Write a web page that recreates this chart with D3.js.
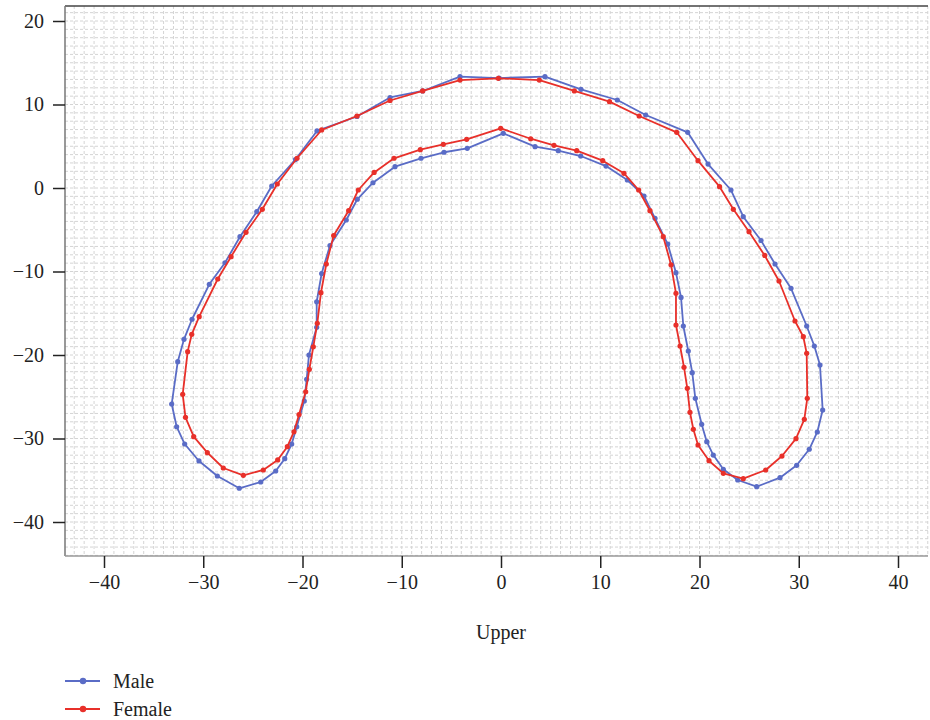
<!DOCTYPE html>
<html>
<head>
<meta charset="utf-8">
<script src="https://cdn.jsdelivr.net/npm/d3@7"></script>
<style>
  html, body { margin: 0; padding: 0; background: #fff; }
  svg { display: block; }
  text { font-family: "Liberation Serif", "DejaVu Serif", serif; fill: #222; }
</style>
</head>
<body>
<svg id="chart" width="930" height="720"></svg>
<script>
// ---- data ----
const seriesNames = ["Male", "Female"];
const seriesColors = ["#5a6cc6", "#e8302a"];

const maleX = [-33.18,-32.57,-31.94,-31.13,-29.39,-27.81,-26.30,-24.61,-23.10,-20.71,-18.54,-14.51,-11.18,-7.89,-4.13,-0.20,4.43,8.06,11.72,14.58,18.81,20.86,23.17,24.41,26.20,27.61,29.22,30.80,31.57,32.14,32.41,31.87,31.06,29.79,28.11,25.76,23.85,22.40,21.39,20.73,20.22,19.58,19.27,18.87,18.37,18.14,17.63,16.80,15.52,14.41,12.73,10.58,8.03,5.77,3.43,0.23,-3.40,-5.74,-8.06,-10.68,-12.90,-14.48,-15.59,-17.23,-18.07,-18.57,-18.57,-19.35,-19.58,-19.82,-20.58,-21.09,-21.79,-22.70,-24.21,-26.37,-28.58,-30.43,-31.87,-32.68];
const maleY = [-25.87,-20.80,-18.12,-15.72,-11.53,-8.95,-5.83,-2.84,0.24,3.41,6.83,8.56,10.84,11.62,13.33,13.17,13.33,11.82,10.54,8.74,6.67,2.87,-0.24,-3.44,-6.29,-9.10,-12.01,-16.53,-18.92,-21.20,-26.59,-29.22,-31.29,-33.21,-34.69,-35.77,-34.97,-33.69,-31.98,-30.38,-28.30,-25.19,-22.12,-19.52,-16.53,-13.11,-10.14,-6.71,-3.63,-0.96,0.96,2.63,3.83,4.47,4.95,6.55,4.75,4.28,3.56,2.55,0.63,-1.35,-3.83,-6.89,-10.24,-13.62,-16.68,-20.00,-22.91,-25.51,-28.59,-30.66,-32.42,-33.89,-35.21,-35.96,-34.49,-32.69,-30.66,-28.59];

const femaleX = [-32.07,-31.57,-31.16,-30.41,-28.54,-27.20,-25.69,-24.05,-22.54,-20.55,-18.07,-14.51,-11.18,-7.89,-4.13,-0.27,3.86,7.39,10.93,13.92,17.70,19.85,22.02,23.41,24.99,26.57,28.01,29.62,30.46,30.80,30.86,30.56,29.72,28.31,26.67,24.41,22.40,20.96,19.85,19.38,19.04,18.77,18.44,18.04,17.63,17.63,17.13,16.35,15.01,13.87,12.39,10.25,7.63,5.34,2.99,-0.03,-3.46,-5.81,-8.13,-10.78,-12.78,-14.38,-15.35,-16.86,-17.60,-18.14,-18.51,-18.91,-19.31,-19.68,-20.35,-20.86,-21.53,-22.50,-23.95,-25.96,-27.98,-29.59,-30.96,-31.79];
const femaleY = [-24.71,-19.60,-17.52,-15.41,-10.90,-8.23,-5.31,-2.55,0.48,3.56,6.95,8.62,10.48,11.62,12.93,13.14,12.93,11.62,10.34,8.62,6.67,3.27,0.16,-2.55,-5.23,-8.08,-11.14,-15.93,-17.81,-19.80,-25.19,-27.70,-30.02,-32.10,-33.77,-34.81,-34.17,-32.66,-30.78,-28.90,-26.86,-23.99,-21.47,-18.92,-16.41,-12.61,-9.19,-5.83,-2.72,-0.24,1.76,3.27,4.47,5.11,5.90,7.15,5.83,5.23,4.59,3.56,1.86,-0.24,-2.72,-5.69,-9.10,-12.54,-16.20,-19.01,-21.71,-24.40,-27.13,-29.19,-30.98,-32.57,-33.77,-34.41,-33.53,-31.70,-29.78,-27.46];

const xTicks = [-40, -30, -20, -10, 0, 10, 20, 30, 40];
const yTicks = [20, 10, 0, -10, -20, -30, -40];
const xTitle = "Upper";

// ---- layout ----
const svg = d3.select("#chart");
const plot = { left: 65, right: 928, top: 6, bottom: 556 };
const fontSize = 20;

const x = d3.scaleLinear().domain([-40, 40]).range([104, 898]);
const y = d3.scaleLinear().domain([20, -40]).range([21, 522]);

const xMin = x.invert(plot.left), xMax = x.invert(plot.right);
const yMax = y.invert(plot.top), yMin = y.invert(plot.bottom);

// grid (every 1 unit, dashed)
const grid = svg.append("g");
d3.range(Math.ceil(xMin), Math.floor(xMax) + 1).forEach(v => {
  grid.append("line")
    .attr("x1", x(v)).attr("x2", x(v))
    .attr("y1", plot.top).attr("y2", plot.bottom)
    .attr("stroke", "#d4d4d4").attr("stroke-width", 1)
    .attr("stroke-dasharray", "3,2");
});
d3.range(Math.ceil(yMin), Math.floor(yMax) + 1).forEach(v => {
  grid.append("line")
    .attr("x1", plot.left).attr("x2", plot.right)
    .attr("y1", y(v)).attr("y2", y(v))
    .attr("stroke", "#d4d4d4").attr("stroke-width", 1)
    .attr("stroke-dasharray", "3,2");
});

// frame
svg.append("line").attr("x1", plot.left).attr("x2", plot.right)
  .attr("y1", plot.top).attr("y2", plot.top)
  .attr("stroke", "#444").attr("stroke-width", 1.5);
svg.append("line").attr("x1", plot.left).attr("x2", plot.left)
  .attr("y1", plot.top).attr("y2", plot.bottom)
  .attr("stroke", "#777").attr("stroke-width", 1.5);

// axes
const xAxis = d3.axisBottom(x).tickValues(xTicks).tickSize(12).tickPadding(7)
  .tickFormat(d3.format("d"));
const gx = svg.append("g").attr("transform", `translate(0,${plot.bottom})`).call(xAxis);
gx.select(".domain").attr("d", `M${plot.left},0H${plot.right}`).attr("stroke", "#999").attr("stroke-width", 1.5);
gx.selectAll(".tick line").attr("stroke", "#222").attr("stroke-width", 1.5);
gx.selectAll(".tick text").attr("font-size", fontSize).attr("font-family", "Liberation Serif, serif").attr("fill", "#222");

const yAxis = d3.axisLeft(y).tickValues(yTicks).tickSize(12).tickPadding(9)
  .tickFormat(d3.format("d"));
const gy = svg.append("g").attr("transform", `translate(${plot.left},0)`).call(yAxis);
gy.select(".domain").remove();
gy.selectAll(".tick line").attr("stroke", "#222").attr("stroke-width", 1.5);
gy.selectAll(".tick text").attr("font-size", fontSize).attr("font-family", "Liberation Serif, serif").attr("fill", "#222");

// x title
svg.append("text").attr("x", x(0)).attr("y", 639)
  .attr("text-anchor", "middle").attr("font-size", fontSize).text(xTitle);

// series
const series = [
  { name: seriesNames[0], color: seriesColors[0], xs: maleX, ys: maleY },
  { name: seriesNames[1], color: seriesColors[1], xs: femaleX, ys: femaleY }
];
const line = d3.line().x(d => x(d[0])).y(d => y(d[1])).curve(d3.curveLinearClosed);

series.forEach(s => {
  const pts = s.xs.map((v, i) => [v, s.ys[i]]);
  const g = svg.append("g");
  g.append("path").attr("d", line(pts))
    .attr("fill", "none").attr("stroke", s.color)
    .attr("stroke-width", 1.8).attr("stroke-linejoin", "round");
  g.selectAll("circle").data(pts).join("circle")
    .attr("cx", d => x(d[0])).attr("cy", d => y(d[1]))
    .attr("r", 2.6).attr("fill", s.color);
});

// legend
const legend = svg.append("g");
series.forEach((s, i) => {
  const ly = 681 + i * 28;
  legend.append("line").attr("x1", 65).attr("x2", 100).attr("y1", ly).attr("y2", ly)
    .attr("stroke", s.color).attr("stroke-width", 1.8);
  legend.append("circle").attr("cx", 83).attr("cy", ly).attr("r", 3.2).attr("fill", s.color);
  legend.append("text").attr("x", 113).attr("y", ly + 7)
    .attr("font-size", fontSize).text(s.name);
});
</script>
</body>
</html>
